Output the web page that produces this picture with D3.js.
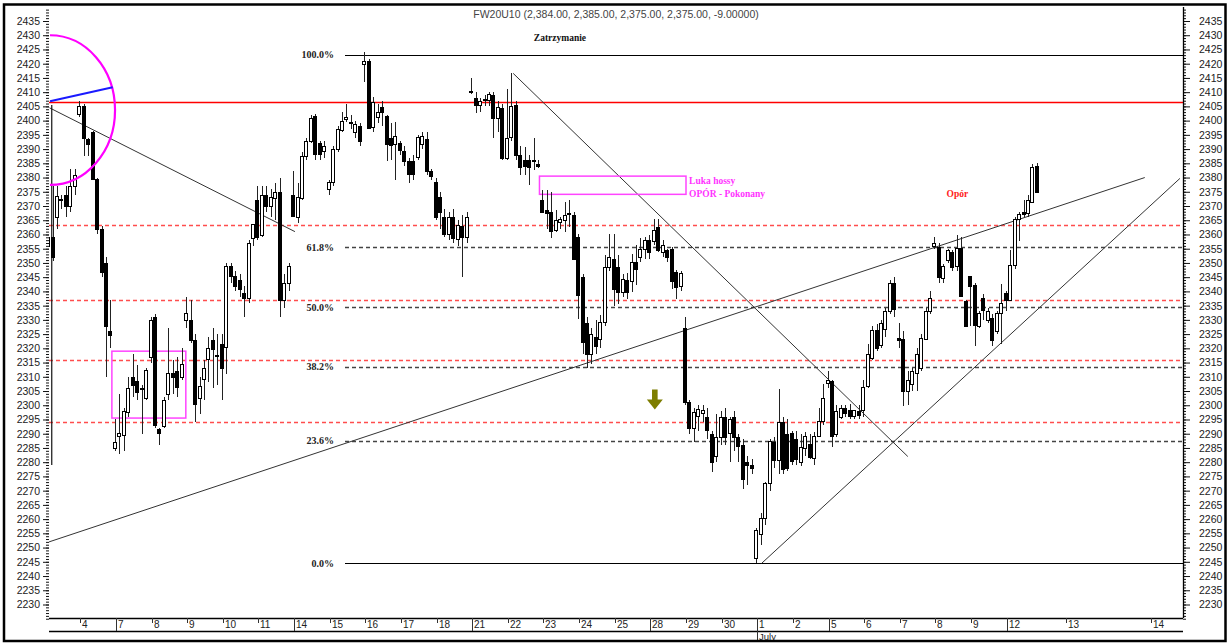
<!DOCTYPE html>
<html>
<head>
<meta charset="utf-8">
<script src="https://cdn.jsdelivr.net/npm/d3@7"></script>
<style>
  body { margin: 0; background: #fff; }
  svg { display: block; }
</style>
</head>
<body>
<div id="chart"></div>
<script>
// FW20U10 hourly bars, one row per trading day (2 June .. 12 July 2010)
const opens = [
  2350, 2356, 2359, 2366, 2372, 2374, 2370, 2377,
  2402.6, 2405, 2393.6, 2396, 2379.4, 2362, 2350, 2326,
  2285, 2289.4, 2289.5, 2297.5, 2310, 2308.4, 2305.5, 2302.6,
  2317, 2331, 2291.5, 2293, 2304, 2311.5, 2312, 2310,
  2330, 2330, 2323, 2302.6, 2309, 2316, 2323, 2317,
  2321.5, 2320.6, 2349, 2345.4, 2344, 2339.6, 2337.8, 2358.7,
  2372, 2360, 2374, 2370, 2373, 2375, 2337, 2343,
  2374, 2366, 2373, 2387.7, 2393, 2401.7, 2392.1, 2389.3,
  2376, 2378.3, 2390, 2397, 2400.5, 2399.4, 2395.9, 2398.2,
  2419.9, 2421.1, 2397.6, 2401, 2404.7, 2401.7, 2394, 2391.8,
  2392, 2389.4, 2385.9, 2385.9, 2387.1, 2391.8, 2393.5, 2382.4,
  2378.3, 2373, 2366, 2360, 2366, 2358.5, 2363, 2359,
  2410.5, 2407.8, 2405.5, 2407, 2407.2, 2409, 2401, 2404.5,
  2386.7, 2394, 2405.5, 2388, 2386, 2386.2, 2386.2, 2384.8,
  2372.1, 2368.5, 2368, 2361.5, 2364.4, 2365, 2367, 2367,
  2359, 2345, 2329, 2318, 2324, 2323.4, 2329.3, 2348.6,
  2351.5, 2348.6, 2339.8, 2343.9, 2343.9, 2350.4, 2352.1, 2355,
  2358, 2357.6, 2362.7, 2353.9, 2354.5, 2355, 2346.9, 2341.6,
  2327, 2301, 2292, 2296, 2297.5, 2296, 2290, 2282,
  2289, 2296, 2290, 2296, 2289, 2286, 2280, 2279,
  2246, 2255, 2260.5, 2272.8, 2287, 2280.6, 2294, 2290,
  2290.4, 2288, 2280, 2285.2, 2286.4, 2281.7, 2289.3, 2294.5,
  2308, 2308.5, 2290, 2296.2, 2299.2, 2298.5, 2296.2, 2298,
  2298.3, 2306.5, 2316.7, 2326.6, 2321, 2326.7, 2333, 2343,
  2323.8, 2323.2, 2305, 2307.4, 2311.4, 2313.2, 2323.2, 2333.1,
  2356, 2355.7, 2344.7, 2351, 2354, 2348.8, 2355.1, 2336.6,
  2345.3, 2342.4, 2327.9, 2337.7, 2330.1, 2330.8, 2326.1, 2332.5,
  2339.5, 2337.1, 2349.3, 2365.6, 2367.9, 2367.3, 2371.4, 2384
]
const highs = [
  2360, 2362, 2377, 2377, 2374, 2377, 2383, 2383,
  2407, 2406, 2394, 2396.5, 2380, 2363, 2352, 2337,
  2295, 2304, 2299, 2310, 2318, 2314, 2307, 2313,
  2331, 2332, 2292, 2303, 2327, 2316, 2317, 2320,
  2338, 2337, 2325, 2310, 2316, 2324, 2327, 2325,
  2325, 2350, 2350, 2347, 2346, 2342, 2358, 2363,
  2377, 2377, 2377, 2376, 2378, 2380, 2346, 2350,
  2382.4, 2378, 2389, 2394, 2402, 2402.5, 2393, 2393,
  2379, 2391, 2398, 2403, 2405.8, 2402, 2400, 2399,
  2424, 2421.5, 2408.2, 2406, 2407, 2402, 2399, 2399.4,
  2393, 2391, 2387, 2388, 2395, 2396, 2396, 2383,
  2380, 2375, 2369, 2368, 2369, 2365, 2367, 2368,
  2415, 2410, 2408, 2409, 2410, 2410, 2407, 2406,
  2411, 2416.6, 2407, 2391, 2390.9, 2388, 2393.8, 2386,
  2375.6, 2375.6, 2375, 2368.5, 2366, 2371.5, 2372, 2368,
  2360, 2346, 2331, 2327, 2330, 2331.6, 2352.7, 2360.3,
  2360, 2352.7, 2346, 2346.3, 2353.3, 2356.2, 2358.6, 2359.2,
  2359.8, 2365.6, 2365.6, 2358, 2355, 2355.5, 2347.5, 2347,
  2331, 2302, 2299, 2300, 2300, 2299, 2291, 2297,
  2298, 2299, 2296, 2298, 2290, 2288, 2282, 2281,
  2257, 2262, 2273, 2288, 2289, 2305.6, 2296, 2295,
  2291, 2291, 2290, 2290.5, 2290, 2290.5, 2299.2, 2307.4,
  2312, 2309, 2300, 2300, 2300, 2300.5, 2298.5, 2300,
  2309, 2321.4, 2328, 2328.5, 2330, 2334, 2344, 2345,
  2329, 2326, 2312, 2313, 2320, 2325, 2334, 2340,
  2359, 2357, 2349.5, 2355, 2354.5, 2359.8, 2359, 2337,
  2345.5, 2343, 2333, 2339, 2334, 2332, 2333, 2342.7,
  2340, 2354.5, 2366, 2368, 2372, 2374, 2384.8, 2385
]
const lows = [
  2345, 2350, 2350.7, 2362, 2369, 2366, 2368, 2374,
  2401.4, 2387.5, 2387.5, 2379, 2360, 2345, 2310, 2320,
  2284, 2283, 2284, 2296, 2303, 2302, 2290, 2302,
  2315, 2292, 2286, 2292, 2302, 2304, 2303, 2309,
  2327, 2322, 2294, 2297, 2302, 2308, 2306, 2307,
  2302, 2311, 2343, 2340, 2338, 2331, 2336, 2356,
  2358, 2359, 2368, 2366, 2365, 2331, 2334, 2340,
  2366, 2364, 2372, 2386, 2392, 2386, 2386, 2387,
  2374, 2377, 2389, 2396, 2399.4, 2397, 2394, 2391,
  2413.5, 2397, 2396, 2399, 2398, 2385.9, 2386, 2379,
  2388, 2384, 2378, 2379, 2386, 2390, 2381, 2379,
  2365, 2362, 2359, 2358, 2357, 2356, 2345, 2357,
  2409.5, 2402.6, 2403, 2405, 2405, 2393.8, 2396, 2386,
  2386, 2393, 2386, 2381, 2381, 2377.4, 2382.7, 2383.5,
  2367.5, 2362, 2358.6, 2361, 2362, 2361, 2362.7, 2351,
  2330.4, 2318, 2313, 2314.5, 2318, 2320, 2328, 2347,
  2335, 2335.7, 2338, 2337.5, 2339.8, 2342.2, 2350.4, 2351.5,
  2351.5, 2356.2, 2353.9, 2352, 2350.4, 2341, 2337.5, 2340,
  2300, 2290, 2287, 2291, 2294, 2288, 2276.5, 2280,
  2286, 2286, 2280, 2284, 2280, 2270.7, 2272, 2276,
  2244.5, 2251, 2258, 2270, 2278, 2276, 2276, 2277,
  2279, 2279, 2278.5, 2282, 2281, 2279, 2289, 2293,
  2306, 2285.2, 2289, 2295, 2296, 2295, 2295, 2295,
  2296, 2306, 2316, 2319, 2320, 2324, 2332, 2331,
  2320, 2299.6, 2300, 2305, 2305, 2312, 2323, 2332,
  2355, 2342.9, 2343, 2350, 2347, 2347, 2338.3, 2327.9,
  2328, 2320.9, 2327, 2330, 2329, 2320.9, 2325, 2321.6,
  2333, 2337, 2348, 2357.6, 2366, 2366, 2371, 2375
]
const closes = [
  2356, 2359, 2352, 2373.5, 2372.5, 2370, 2377, 2381,
  2405.3, 2393.6, 2392, 2379.4, 2362, 2347, 2328, 2324.5,
  2287, 2290.4, 2298, 2306, 2307.3, 2304.4, 2306, 2312.3,
  2330, 2293, 2290, 2302, 2311.5, 2310, 2306.4, 2314.5,
  2332.5, 2323, 2300.5, 2306.7, 2313, 2320, 2319.7, 2317.5,
  2313, 2349, 2345.4, 2342, 2341, 2337.8, 2357, 2363.7,
  2359, 2374, 2370, 2373, 2375, 2337, 2343, 2349,
  2366.5, 2373, 2387.7, 2393, 2401, 2388.2, 2388.2, 2391,
  2378.3, 2390, 2397, 2400, 2401.1, 2398.9, 2398.8, 2393,
  2421.1, 2397.6, 2406.4, 2402.9, 2402.9, 2391.7, 2391.7, 2394.7,
  2389.4, 2385.9, 2381.2, 2381.2, 2394.1, 2394.7, 2382.4, 2380.5,
  2366, 2367.7, 2360, 2366, 2358.5, 2363.5, 2359, 2366,
  2410, 2405.5, 2407, 2407.5, 2409.2, 2401, 2404.9, 2387,
  2393.8, 2405, 2387.9, 2383.9, 2384, 2383.9, 2386, 2384.1,
  2368, 2367.4, 2361.5, 2365, 2365.6, 2366.8, 2367.5, 2351.5,
  2338.7, 2322, 2318, 2325, 2321, 2329.3, 2348.6, 2352.1,
  2341, 2339.8, 2344.5, 2339.8, 2350.4, 2348, 2355, 2358,
  2353.9, 2361.5, 2354.5, 2356.2, 2352.1, 2343.9, 2341.6, 2346.3,
  2301, 2292, 2297.5, 2298.6, 2298.5, 2291.6, 2280, 2288.7,
  2296, 2289, 2295, 2289, 2286, 2274, 2279, 2278,
  2256, 2260.5, 2272.8, 2287.5, 2280.6, 2294, 2277.5, 2278,
  2280.6, 2281, 2285.2, 2289.3, 2281.7, 2289.3, 2294.5, 2302.7,
  2309, 2289.3, 2298, 2299.2, 2297.5, 2296.5, 2298.2, 2296.5,
  2306.5, 2317.9, 2326.6, 2320.2, 2328.9, 2333.1, 2343, 2334,
  2323.1, 2305, 2309, 2312, 2317.9, 2323.7, 2333.1, 2337.7,
  2357, 2345.3, 2348.8, 2354.5, 2348.8, 2355.1, 2338.3, 2327.9,
  2341.8, 2328.4, 2332.5, 2333.6, 2333.1, 2323.2, 2332.5, 2336,
  2337.1, 2349.3, 2365.6, 2367.3, 2367.3, 2372, 2383.6, 2375
]

// Date axis: day labels and the bar each day starts on
const dayLabels = ['2', '4', '7', '8', '9', '10', '11', '14', '15', '16', '17', '18', '21', '22', '23',
  '24', '25', '28', '29', '30', '1', '2', '5', '6', '7', '8', '9', '12', '13', '14']
const dayBars = [0, 8, 16, 24, 32, 40, 48, 56, 64, 72, 80, 88, 96, 104, 112,
  120, 128, 136, 144, 152, 160, 168, 176, 184, 192, 200, 208, 216, 229.3, 248.5]
const weekStartBars = [16, 56, 96, 136, 176, 216]
const monthLabels = ['July']
const monthBars = [160]

// Fibonacci retracement levels
const fibLabels = ['0.0%', '23.6%', '38.2%', '50.0%', '61.8%', '100.0%']
const fibValues = [2244.5, 2287.5, 2313.5, 2334.5, 2355.5, 2423.2]

// Horizontal support/resistance levels
const resistanceLevel = 2406.5
const dashedRedLevels = [2294, 2316, 2337, 2363.5]

// Trend lines: [bar1, value1, bar2, value2]
const trendLines = [
  [1.0, 2252, 247, 2380],
  [1.1, 2404.5, 56.2, 2361],
  [105.2, 2416.6, 193.8, 2282],
  [161.0, 2244.5, 254.9, 2379.7]
]
const markerLine = [1.6, 2405.5, 1.6, 2279]

// Rectangles: [bar1, bar2, valueLow, valueHigh]
const boxes = [
  [15.1, 31.7, 2295.5, 2319],
  [111.1, 144.0, 2374.1, 2380.5]
]

// Arc tool: centre bar, centre value, radius in bars, radius in points
const arc = [1.21, 2403.7, 14.6, 26.3]
const arcRadius = [1.21, 2406.8, 15.28, 2411.7]

// Notes: text, bar, value, colour, anchor
const notes = [
  ['Zatrzymanie', 115.7, 2429.2, '#111', 'middle'],
  ['Luka hossy', 144.7, 2379, '#ff33ff', 'start'],
  ['OPÓR - Pokonany', 144.7, 2374.2, '#ff33ff', 'start'],
  ['Opór', 202.5, 2374.5, '#ff2020', 'start']
]
const arrowMark = [137, 2305.5, 2298.5]

const titleText = 'FW20U10 (2,384.00, 2,385.00, 2,375.00, 2,375.00, -9.00000)'

// ---------------------------------------------------------------------------
const width = 1228
const height = 644
const plot = {left: 49, right: 1183, top: 7, bottom: 618}
const barW = 4.454
const x0 = 42.4

const xScale = d3.scaleLinear().domain([0, 100]).range([x0 + 0.5 * barW, x0 + 100.5 * barW])
const yScale = d3.scaleLinear().domain([2230, 2435]).range([604.5, 21])

const svg = d3.select('#chart')
  .append('svg')
  .attr('width', width)
  .attr('height', height)
  .style('font-family', 'Arial, "Liberation Sans", sans-serif')

svg.append('rect').attr('width', width).attr('height', height).attr('fill', '#fff')

svg.append('defs').append('clipPath').attr('id', 'plotClip')
  .append('rect')
  .attr('x', plot.left).attr('y', plot.top)
  .attr('width', plot.right - plot.left).attr('height', plot.bottom - plot.top)

const gPlot = svg.append('g').attr('clip-path', 'url(#plotClip)')

// Horizontal levels
gPlot.selectAll('.redDash')
  .data(dashedRedLevels)
  .join('line')
  .attr('x1', plot.left).attr('x2', plot.right)
  .attr('y1', d => Math.round(yScale(d)) + 0.5).attr('y2', d => Math.round(yScale(d)) + 0.5)
  .style('stroke', '#ff4d4d').style('stroke-width', 1.3).style('stroke-dasharray', '4,3')

const fibStart = 345
gPlot.selectAll('.fib')
  .data(fibValues)
  .join('line')
  .attr('x1', fibStart).attr('x2', plot.right)
  .attr('y1', d => Math.round(yScale(d)) + 0.5).attr('y2', d => Math.round(yScale(d)) + 0.5)
  .style('stroke', (d, i) => (i === 0 || i === fibValues.length - 1) ? '#000' : '#444')
  .style('stroke-width', (d, i) => (i === 0 || i === fibValues.length - 1) ? 1 : 1.3)
  .style('stroke-dasharray', (d, i) => (i === 0 || i === fibValues.length - 1) ? null : '4,3')

svg.selectAll('.fibLabel')
  .data(fibValues)
  .join('text')
  .attr('x', 334)
  .attr('y', d => yScale(d))
  .attr('dy', '0.35em')
  .attr('text-anchor', 'end')
  .style('font-family', '"Liberation Serif", "Times New Roman", serif')
  .style('font-weight', 'bold')
  .style('font-size', '10px')
  .style('fill', '#222')
  .text((d, i) => fibLabels[i])

gPlot.append('line')
  .attr('x1', plot.left).attr('x2', plot.right)
  .attr('y1', Math.round(yScale(resistanceLevel)) + 0.5).attr('y2', Math.round(yScale(resistanceLevel)) + 0.5)
  .style('stroke', '#ff0000').style('stroke-width', 1.3)

// Trend lines
const linePath = d3.line().x(d => xScale(d[0])).y(d => yScale(d[1]))
gPlot.selectAll('.trend')
  .data(trendLines)
  .join('path')
  .attr('d', d => linePath([[d[0], d[1]], [d[2], d[3]]]))
  .style('fill', 'none').style('stroke', '#333').style('stroke-width', 1)

gPlot.append('path')
  .attr('d', linePath([[markerLine[0], markerLine[1]], [markerLine[2], markerLine[3]]]))
  .style('stroke', '#111').style('stroke-width', 1.2).style('fill', 'none')

// Rectangles
gPlot.selectAll('.box')
  .data(boxes)
  .join('rect')
  .attr('x', d => xScale(d[0]))
  .attr('y', d => yScale(d[3]))
  .attr('width', d => xScale(d[1]) - xScale(d[0]))
  .attr('height', d => yScale(d[2]) - yScale(d[3]))
  .style('fill', 'none').style('stroke', '#ff44ff').style('stroke-width', 1.5)

// Candles
const bars = opens.map((o, i) => ({i: i, o: o, h: highs[i], l: lows[i], c: closes[i]}))
const gCandles = gPlot.append('g')
gCandles.selectAll('.wick')
  .data(bars)
  .join('line')
  .attr('x1', d => Math.round(xScale(d.i)) - 0.5)
  .attr('x2', d => Math.round(xScale(d.i)) - 0.5)
  .attr('y1', d => yScale(Math.max(d.h, d.o, d.c)))
  .attr('y2', d => yScale(Math.min(d.l, d.o, d.c)))
  .style('stroke', '#222').style('stroke-width', 1)
  .style('shape-rendering', 'crispEdges')

gCandles.selectAll('.body')
  .data(bars)
  .join('rect')
  .attr('x', d => Math.round(xScale(d.i)) - 2.5)
  .attr('y', d => Math.round(yScale(Math.max(d.o, d.c))) + 0.5)
  .attr('width', 3)
  .attr('height', d => Math.max(1, Math.round(Math.abs(yScale(d.o) - yScale(d.c)))))
  .style('fill', d => d.c >= d.o ? '#fff' : '#000')
  .style('stroke', '#000').style('stroke-width', 1)
  .style('shape-rendering', 'crispEdges')

// Arc tool
const cx = xScale(arc[0])
const rx = xScale(arc[0] + arc[2]) - cx
const yTop = yScale(arc[1] + arc[3])
const yBot = yScale(arc[1] - arc[3])
const ry = (yBot - yTop) / 2
svg.append('path')
  .attr('d', `M${cx},${yTop} A${rx},${ry} 0 0 1 ${cx},${yBot}`)
  .style('fill', 'none').style('stroke', '#ff00ff').style('stroke-width', 2.2)
svg.append('path')
  .attr('d', linePath([[arcRadius[0], arcRadius[1]], [arcRadius[2], arcRadius[3]]]))
  .style('fill', 'none').style('stroke', '#1a1aff').style('stroke-width', 2)

// Down arrow
const ax = xScale(arrowMark[0])
const ayTop = yScale(arrowMark[1])
const ayTip = yScale(arrowMark[2])
const aMid = ayTop + (ayTip - ayTop) * 0.5
svg.append('path')
  .attr('d', `M${ax - 2.8},${ayTop} L${ax + 2.8},${ayTop} L${ax + 2.8},${aMid} L${ax + 8},${aMid} L${ax},${ayTip} L${ax - 8},${aMid} L${ax - 2.8},${aMid} Z`)
  .style('fill', '#7d7d00')

// Notes
svg.selectAll('.note')
  .data(notes)
  .join('text')
  .attr('x', d => xScale(d[1]))
  .attr('y', d => yScale(d[2]))
  .attr('dy', '0.35em')
  .attr('text-anchor', d => d[4])
  .style('font-family', '"Liberation Serif", "Times New Roman", serif')
  .style('font-weight', 'bold')
  .style('font-size', '9.5px')
  .style('fill', d => d[3])
  .text(d => d[0])

// Title
svg.append('text')
  .attr('x', (plot.left + plot.right) / 2)
  .attr('y', 18)
  .attr('text-anchor', 'middle')
  .style('font-size', '10.5px')
  .style('fill', '#444')
  .text(titleText)

// Price axes
const majorTicks = d3.range(2230, 2436, 5)
const minorTicks = d3.range(2225, 2440)

const lAxis = svg.append('g').attr('transform', `translate(${plot.left},0)`)
lAxis.call(d3.axisLeft(yScale).tickValues(minorTicks).tickSize(3).tickFormat(''))
lAxis.call(g => g.select('.domain').remove())
const lAxisMajor = svg.append('g').attr('transform', `translate(${plot.left},0)`)
lAxisMajor.call(d3.axisLeft(yScale).tickValues(majorTicks).tickSize(6).tickPadding(3).tickFormat(d3.format('d')))
lAxisMajor.call(g => g.select('.domain').remove())

const rAxis = svg.append('g').attr('transform', `translate(${plot.right},0)`)
rAxis.call(d3.axisRight(yScale).tickValues(minorTicks).tickSize(3).tickFormat(''))
rAxis.call(g => g.select('.domain').remove())
const rAxisMajor = svg.append('g').attr('transform', `translate(${plot.right},0)`)
rAxisMajor.call(d3.axisRight(yScale).tickValues(majorTicks).tickSize(7).tickPadding(9).tickFormat(d3.format('d')))
rAxisMajor.call(g => g.select('.domain').remove())

svg.selectAll('.tick text').style('font-size', '10.5px').style('fill', '#222')
  .style('font-family', 'Arial, "Liberation Sans", sans-serif')
svg.selectAll('.tick line').style('stroke', '#111')

svg.append('line')
  .attr('x1', plot.right + 0.5).attr('x2', plot.right + 0.5)
  .attr('y1', plot.top).attr('y2', plot.bottom)
  .style('stroke', '#000').style('stroke-width', 1.3)

// Date axis
const dateTop = plot.bottom
const dateBottom = 631
svg.append('line').attr('x1', plot.left).attr('x2', plot.right)
  .attr('y1', dateTop + 0.5).attr('y2', dateTop + 0.5).style('stroke', '#000').style('stroke-width', 1.3)
svg.append('line').attr('x1', plot.left).attr('x2', plot.right)
  .attr('y1', dateBottom + 0.5).attr('y2', dateBottom + 0.5).style('stroke', '#000').style('stroke-width', 1.3)

const gDates = svg.append('g')
const dates = dayBars.map((b, i) => ({b: b, label: dayLabels[i], week: weekStartBars.includes(b)}))
  .filter(d => xScale(d.b) >= plot.left)
gDates.selectAll('.dtick')
  .data(dates)
  .join('line')
  .attr('x1', d => Math.round(xScale(d.b)) + 0.5).attr('x2', d => Math.round(xScale(d.b)) + 0.5)
  .attr('y1', dateTop).attr('y2', d => d.week ? dateBottom : dateTop + 5)
  .style('stroke', '#333').style('stroke-width', 1)
gDates.selectAll('.dlabel')
  .data(dates)
  .join('text')
  .attr('x', d => Math.round(xScale(d.b)) + 2)
  .attr('y', dateBottom - 3)
  .style('font-size', '10px')
  .style('fill', '#222')
  .text(d => d.label)

svg.selectAll('.mtick')
  .data(monthBars)
  .join('line')
  .attr('x1', d => Math.round(xScale(d)) + 0.5).attr('x2', d => Math.round(xScale(d)) + 0.5)
  .attr('y1', dateTop).attr('y2', 641)
  .style('stroke', '#333').style('stroke-width', 1)
svg.selectAll('.mlabel')
  .data(monthBars)
  .join('text')
  .attr('x', d => Math.round(xScale(d)) + 2)
  .attr('y', 640)
  .style('font-size', '9.5px')
  .style('fill', '#222')
  .text((d, i) => monthLabels[i])

// Outer frame
svg.append('rect')
  .attr('x', 4).attr('y', 4.5)
  .attr('width', 1221.5).attr('height', 636.5)
  .style('fill', 'none').style('stroke', '#000').style('stroke-width', 2.5)
</script>
</body>
</html>
